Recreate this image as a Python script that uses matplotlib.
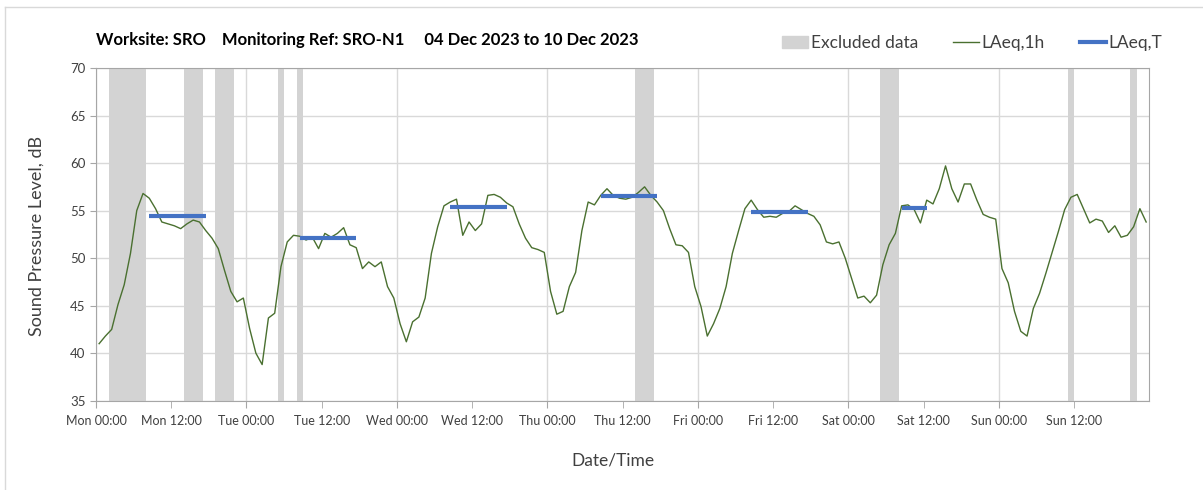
import matplotlib
matplotlib.use('Agg')
import matplotlib.pyplot as plt
from matplotlib.lines import Line2D
from matplotlib.patches import Patch
import numpy as np

plt.rcParams['font.family'] = ['Lato', 'DejaVu Sans']

# hourly LAeq,1h values, Mon 00:00 .. Sun 23:00
laeq_1h = [
    41.0, 41.8, 42.5, 45.1, 47.2, 50.5, 55.0, 56.8, 56.3, 55.2, 53.8, 53.6,
    53.4, 53.1, 53.6, 54.0, 53.8, 52.9, 52.1, 51.0, 48.7, 46.5, 45.4, 45.8,
    42.6, 40.0, 38.8, 43.7, 44.2, 49.1, 51.7, 52.4, 52.3, 51.9, 52.2, 51.0,
    52.6, 52.2, 52.6, 53.2, 51.4, 51.1, 48.9, 49.6, 49.1, 49.6, 47.0, 45.8,
    43.1, 41.2, 43.3, 43.8, 45.8, 50.5, 53.3, 55.5, 55.9, 56.2, 52.4, 53.8,
    52.9, 53.6, 56.6, 56.7, 56.4, 55.8, 55.4, 53.6, 52.1, 51.1, 50.9, 50.6,
    46.5, 44.1, 44.4, 47.0, 48.5, 52.9, 55.9, 55.6, 56.6, 57.3, 56.6, 56.3,
    56.2, 56.4, 56.9, 57.5, 56.6, 55.9, 55.0, 53.1, 51.4, 51.3, 50.6, 47.0,
    44.9, 41.8, 43.1, 44.7, 47.0, 50.5, 52.9, 55.2, 56.1, 55.1, 54.3, 54.4,
    54.3, 54.7, 54.9, 55.5, 55.1, 54.7, 54.4, 53.5, 51.7, 51.5, 51.7, 50.0,
    47.9, 45.8, 46.0, 45.3, 46.1, 49.3, 51.4, 52.6, 55.5, 55.6, 55.1, 53.7,
    56.1, 55.7, 57.3, 59.7, 57.3, 55.9, 57.8, 57.8, 56.1, 54.6, 54.3, 54.1,
    48.9, 47.4, 44.4, 42.3, 41.8, 44.7, 46.3, 48.4, 50.6, 52.8, 55.1, 56.4,
    56.7, 55.2, 53.7, 54.1, 53.9, 52.7, 53.4, 52.2, 52.4, 53.3, 55.2, 53.8,
]

# LAeq,T over each working period (start hour, end hour, level)
period_start = [8, 32, 56, 80, 104, 128]
period_end = [17, 41, 65, 89, 113, 132]
period_level = [54.4, 52.1, 55.4, 56.55, 54.85, 55.3]

# excluded periods, hours from Mon 00:00
excl_start = [2, 14, 19, 29, 32, 86, 125, 155, 165]
excl_end = [8, 17, 22, 30, 33, 89, 128, 156, 166]

day_names = ['Mon', 'Tue', 'Wed', 'Thu', 'Fri', 'Sat', 'Sun']

hours = np.arange(len(laeq_1h)) + 0.5

fig = plt.figure(figsize=(12.03, 4.90), dpi=100)
ax = fig.add_axes([96 / 1203, 1 - 400.7 / 490, (1149.3 - 96) / 1203, (400.7 - 68) / 490])

grey_txt = '#404040'
line_green = '#4a7030'
for s, e in zip(excl_start, excl_end):
    ax.axvspan(s, e, color='#d3d3d3', lw=0, zorder=1)

ax.plot(hours, laeq_1h, color=line_green, lw=1.0, zorder=3)
for s, e, v in zip(period_start, period_end, period_level):
    ax.plot([s + 0.5, e + 0.5], [v, v], color='#4472c4', lw=3, solid_capstyle='butt', zorder=4)

ax.set_xlim(0, 168)
ax.set_ylim(35, 70)
ax.set_yticks(range(35, 71, 5))
ax.set_xticks(range(0, 168, 24))
ax.set_xticks(range(12, 168, 24), minor=True)
ax.set_xticklabels([])
ax.tick_params(axis='x', which='both', length=5, color='#a6a6a6')
ax.tick_params(axis='y', length=4, color='#a6a6a6', labelsize=9.5, labelcolor=grey_txt)
ax.grid(True, which='major', color='#d9d9d9', lw=1, zorder=0)
ax.set_axisbelow(True)
for sp in ax.spines.values():
    sp.set_color('#a6a6a6')

# tick labels every 12 hours
tick_pos = list(range(0, 168, 12))
tick_lab = [f'{day_names[h // 24]} {h % 24:02d}:00' for h in tick_pos]
for p, lab in zip(tick_pos, tick_lab):
    ax.text(p, -0.042, lab, transform=ax.get_xaxis_transform(), ha='center', va='top',
            fontsize=9, color=grey_txt)

fig.text(37 / 1203, 1 - 236 / 490, 'Sound Pressure Level, dB', rotation=90,
         ha='center', va='center', fontsize=13, color=grey_txt)
fig.text(613 / 1203, 1 - 460 / 490, 'Date/Time', ha='center', va='center', fontsize=12.5, color=grey_txt)

fig.text(96 / 1203, 1 - 40 / 490,
         'Worksite: SRO    Monitoring Ref: SRO-N1     04 Dec 2023 to 10 Dec 2023',
         ha='left', va='center', fontsize=12, fontweight='bold', color='black')

handles = [Patch(color='#d3d3d3', label='Excluded data'),
           Line2D([], [], color=line_green, lw=1.0, label='LAeq,1h'),
           Line2D([], [], color='#4472c4', lw=3, label='LAeq,T')]
leg = fig.legend(handles=handles, loc='center right', bbox_to_anchor=(1162 / 1203, 1 - 43 / 490),
                 ncol=3, frameon=False, fontsize=12.5, handlelength=1.5, handletextpad=0.15,
                 columnspacing=2.0, handleheight=0.7, borderpad=0, borderaxespad=0)
for t in leg.get_texts():
    t.set_color(grey_txt)

# chart area border
fig.add_artist(Line2D([5 / 1203, 1], [1 - 7 / 490, 1 - 7 / 490], transform=fig.transFigure,
                      color='#d9d9d9', lw=1))
fig.add_artist(Line2D([5 / 1203, 5 / 1203], [0, 1 - 7 / 490], transform=fig.transFigure,
                      color='#d9d9d9', lw=1))

fig.savefig('out.png', dpi=100)
